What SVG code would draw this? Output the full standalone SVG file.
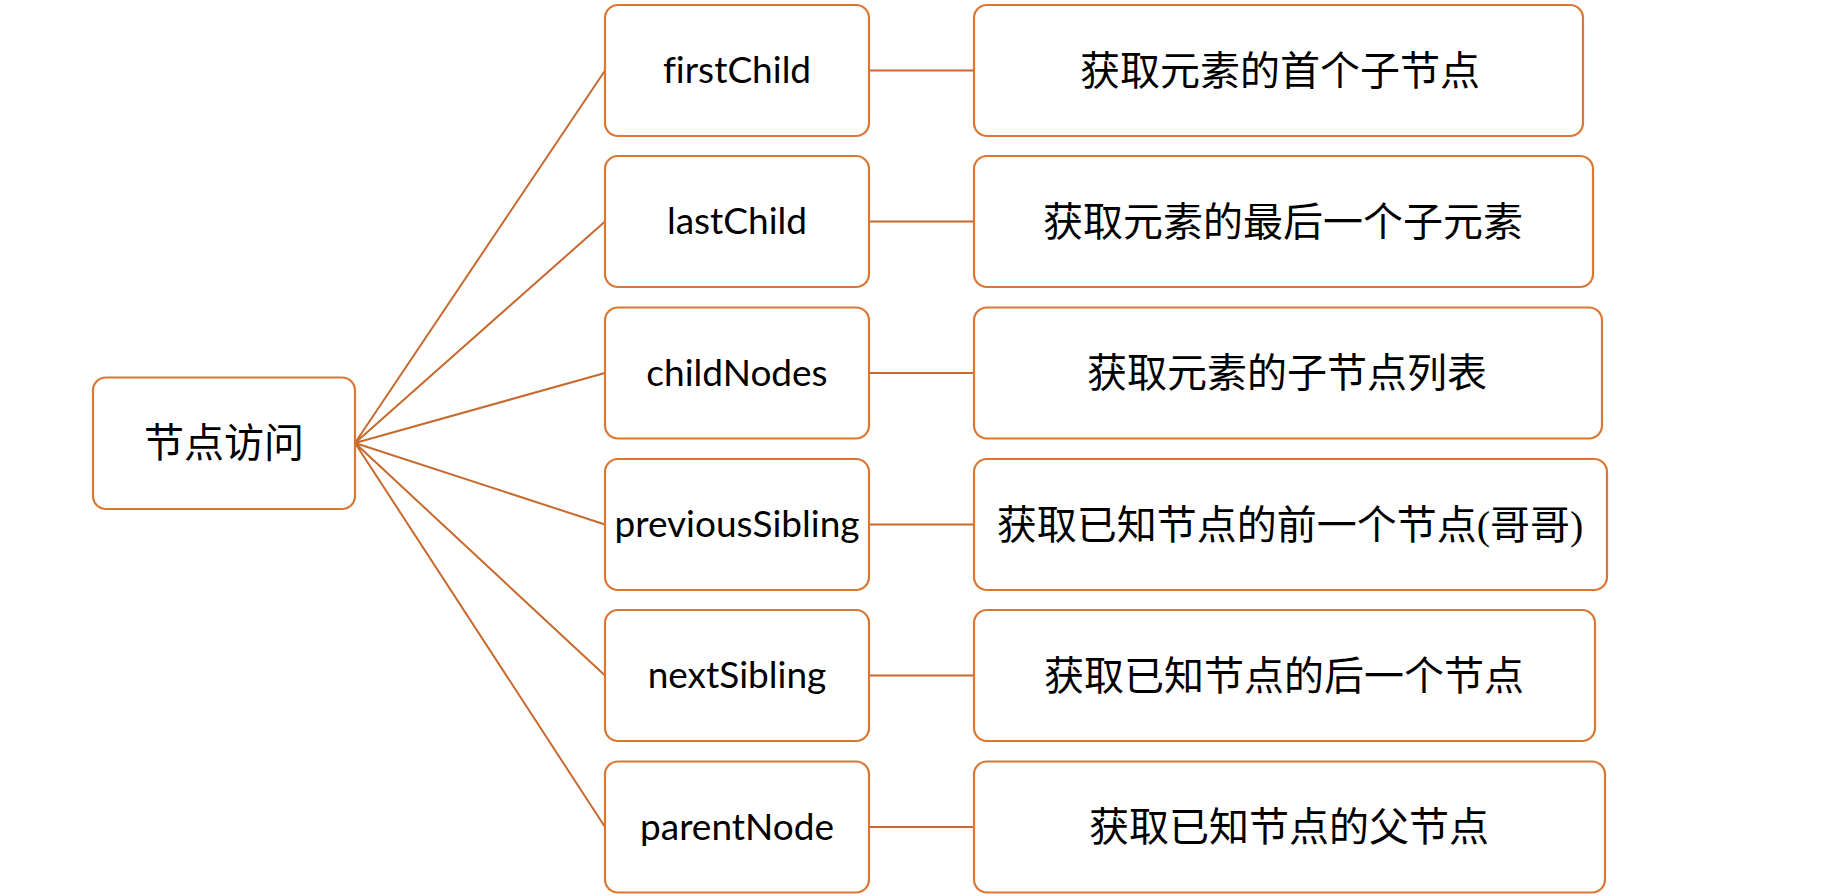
<svg xmlns="http://www.w3.org/2000/svg" width="1844" height="896" viewBox="0 0 1844 896">
<style>
.box{fill:#fff;stroke:#DC7633;stroke-width:2.2}
.ln{stroke:#C8692D;stroke-width:2;fill:none}
.en{font-family:Lato,"Liberation Sans",sans-serif;font-size:37px;fill:#000;text-anchor:middle;font-variant-ligatures:none}
.zh{font-family:"Liberation Serif","Noto Sans CJK SC",serif;font-size:40px;fill:#000;text-anchor:middle}
</style>
<rect width="1844" height="896" fill="#fff"/>
<g id="connectors">
<path class="ln" d="M355,443 L605,70.5 M355,443 L605,221.5 M355,443 L605,373 M355,443 L605,524.5 M355,443 L605,675.5 M355,443 L605,827"/>
<path class="ln" d="M869,70.5 H974 M869,221.5 H974 M869,373 H974 M869,524.5 H974 M869,675.5 H974 M869,827 H974"/>
</g>
<g id="root"><rect class="box" x="93" y="377.5" width="262" height="131.5" rx="13"/><text class="zh" x="224" y="457">节点访问</text></g>
<g id="n1"><rect class="box" x="605" y="5" width="264" height="131" rx="13"/><text class="en" x="737" y="83">firstChild</text></g>
<g id="n2"><rect class="box" x="605" y="156" width="264" height="131" rx="13"/><text class="en" x="737" y="234">lastChild</text></g>
<g id="n3"><rect class="box" x="605" y="307.5" width="264" height="131" rx="13"/><text class="en" x="737" y="385.5">childNodes</text></g>
<g id="n4"><rect class="box" x="605" y="459" width="264" height="131" rx="13"/><text class="en" x="737" y="537">previousSibling</text></g>
<g id="n5"><rect class="box" x="605" y="610" width="264" height="131" rx="13"/><text class="en" x="737" y="688">nextSibling</text></g>
<g id="n6"><rect class="box" x="605" y="761.5" width="264" height="131" rx="13"/><text class="en" x="737" y="839.5">parentNode</text></g>
<g id="d1"><rect class="box" x="974" y="5" width="609" height="131" rx="13"/><text class="zh" x="1280" y="84.5">获取元素的首个子节点</text></g>
<g id="d2"><rect class="box" x="974" y="156" width="619" height="131" rx="13"/><text class="zh" x="1283" y="235.5">获取元素的最后一个子元素</text></g>
<g id="d3"><rect class="box" x="974" y="307.5" width="628" height="131" rx="13"/><text class="zh" x="1287" y="387">获取元素的子节点列表</text></g>
<g id="d4"><rect class="box" x="974" y="459" width="633" height="131" rx="13"/><text class="zh" x="1290" y="538.5">获取已知节点的前一个节点(哥哥)</text></g>
<g id="d5"><rect class="box" x="974" y="610" width="621" height="131" rx="13"/><text class="zh" x="1284" y="689.5">获取已知节点的后一个节点</text></g>
<g id="d6"><rect class="box" x="974" y="761.5" width="631" height="131" rx="13"/><text class="zh" x="1289" y="841">获取已知节点的父节点</text></g>
</svg>
